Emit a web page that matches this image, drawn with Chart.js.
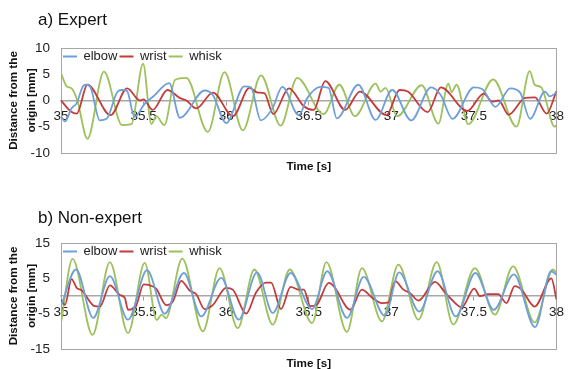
<!DOCTYPE html>
<html>
<head>
<meta charset="utf-8">
<script src="https://cdn.jsdelivr.net/npm/chart.js@4.4.1/dist/chart.umd.min.js"></script>
<style>
  html, body { margin: 0; padding: 0; background: #fff; overflow: hidden; width: 568px; height: 369px; }
  canvas { position: absolute; left: 0; }
  .panel-title { position: absolute; left: 38px; font: 17px "Liberation Sans", Arial, sans-serif; color: #111; white-space: nowrap; z-index: 2; }
</style>
</head>
<body>
<canvas id="expert" width="568" height="185" style="top:0px"></canvas>
<canvas id="nonExpert" width="568" height="190" style="top:185px"></canvas>
<div class="panel-title" style="top:10px">a) Expert</div>
<div class="panel-title" style="top:208px">b) Non-expert</div>
<script>
// series names and colours
const seriesNames = ["elbow", "wrist", "whisk"];
const seriesColors = ["#6f9fd8", "#c43b3b", "#9dc15c"];

// time axis
const timeMin = 35;
const timeMax = 38;
const timeStep = 0.5;

// a) Expert
const expertElbowT = [35.0, 35.024, 35.064, 35.095, 35.135, 35.155, 35.179, 35.235, 35.276, 35.346, 35.376, 35.40, 35.445, 35.51, 35.56, 35.655, 35.72, 35.87, 35.92, 36.0, 36.11, 36.15, 36.21, 36.28, 36.34, 36.44, 36.49, 36.57, 36.62, 36.67, 36.80, 36.905, 37.005, 37.12, 37.24, 37.30, 37.37, 37.5, 37.55, 37.63, 37.72, 37.78, 37.84, 37.93, 37.96, 38.0];
const expertElbowV = [-3.0, -4.0, -1.5, -0.5, 2.8, 3.0, 2.5, -3.8, -3.5, 1.8, 2.0, 1.8, -3.1, -0.5, 0.8, 3.3, -3.3, 1.9, 1.0, -4.3, 2.7, 2.5, -3.8, -1.5, 2.6, -2.8, 0.4, 2.6, 2.4, -3.4, 3.0, -3.7, 2.0, -3.8, 2.5, 1.0, -3.5, 2.5, 2.2, -1.2, 2.3, 1.5, -3.5, 1.7, 0.8, 1.5];
const expertWristT = [35.0, 35.06, 35.095, 35.16, 35.30, 35.40, 35.479, 35.499, 35.555, 35.645, 35.718, 35.759, 35.819, 35.92, 36.041, 36.141, 36.191, 36.231, 36.285, 36.38, 36.47, 36.53, 36.60, 36.72, 36.81, 36.97, 37.05, 37.10, 37.22, 37.30, 37.46, 37.56, 37.61, 37.65, 37.71, 37.81, 37.87, 37.94, 38.0];
const expertWristV = [0, -2.1, -2.5, 3.0, -2.8, 2.3, 0, 0.2, -1.8, 2.0, 0.5, 0, -1.5, 1.5, -3.0, 2.4, 1.5, 1.4, -2.6, 2.3, -1.1, -1.8, 3.7, -1.8, 1.7, -2.8, 2.0, 1.7, -2.2, 2.5, -2.0, 1.3, -0.2, 0, -2.7, 0.5, 0.6, -2.5, 1.8];
const expertWhiskT = [35.0, 35.034, 35.064, 35.099, 35.16, 35.26, 35.37, 35.427, 35.497, 35.547, 35.577, 35.626, 35.69, 35.759, 35.889, 35.99, 36.101, 36.211, 36.33, 36.43, 36.59, 36.685, 36.78, 36.905, 36.935, 36.965, 37.035, 37.184, 37.285, 37.345, 37.365, 37.395, 37.466, 37.617, 37.758, 37.838, 37.868, 37.908, 37.989, 38.0];
const expertWhiskV = [5.2, 2.7, 2.3, 0, -7.3, 5.5, -4.7, -4.5, 7.0, -4.5, -3.0, -4.7, 3.9, 4.3, -6.0, 5.4, -5.7, 4.8, -4.8, 4.3, -2.6, 3.0, -3.0, 3.2, 1.7, 2.4, -3.0, 2.9, -4.4, 3.2, 1.6, 3.0, -4.5, 4.0, -5.0, 5.6, 3.0, 2.5, -5.0, -4.7];

// b) Non-expert
const nonExpertElbowT = [35.0, 35.091, 35.195, 35.296, 35.406, 35.521, 35.628, 35.744, 35.849, 35.97, 36.076, 36.187, 36.282, 36.39, 36.52, 36.612, 36.732, 36.833, 36.96, 37.048, 37.169, 37.28, 37.39, 37.509, 37.62, 37.742, 37.87, 37.968, 38.0];
const nonExpertElbowV = [-2.9, 7.5, -6.2, 5.6, -6.7, 7.3, -5.0, 6.5, -5.8, 5.1, -6.7, 6.7, -4.8, 6.5, -3.7, 7.0, -6.2, 5.4, -5.6, 6.7, -4.4, 7.0, -5.8, 6.5, -3.9, 6.1, -8.8, 7.0, 6.0];
const nonExpertWristT = [35.0, 35.024, 35.064, 35.095, 35.125, 35.205, 35.235, 35.296, 35.356, 35.386, 35.406, 35.447, 35.501, 35.557, 35.577, 35.638, 35.678, 35.728, 35.779, 35.819, 35.869, 35.92, 36.0, 36.04, 36.121, 36.181, 36.241, 36.272, 36.332, 36.39, 36.44, 36.47, 36.51, 36.55, 36.621, 36.651, 36.752, 36.822, 36.882, 36.943, 36.983, 37.023, 37.073, 37.114, 37.164, 37.265, 37.325, 37.365, 37.426, 37.502, 37.536, 37.587, 37.647, 37.697, 37.747, 37.788, 37.868, 37.969, 38.0];
const nonExpertWristV = [-1, -2.5, 4.8, 2.3, 1.6, -2.9, -3.0, 3.0, 0.3, -0.5, -3.9, -3.5, 3.3, 2.7, 2.0, -2.6, -1.5, 4.3, 1.5, 0.5, -3.7, -2.5, 2.3, 1.8, -5.0, 1.0, 3.8, 3.8, -3.7, 2.6, 1.8, 1.8, -2.9, -2.4, 3.7, 2.8, -3.9, 1.8, -0.4, -2.0, -1.8, 4.2, 1.8, 0.8, -1.3, 4.0, 1.0, -1.0, -3.2, 2.1, 0, 0.5, 0.5, -2.0, 2.8, 1.8, -3.0, 5.0, -1.0];
const nonExpertWhiskT = [35.0, 35.07, 35.191, 35.296, 35.406, 35.507, 35.58, 35.61, 35.635, 35.734, 35.859, 35.96, 36.07, 36.171, 36.282, 36.385, 36.52, 36.607, 36.731, 36.822, 36.943, 37.043, 37.164, 37.275, 37.375, 37.506, 37.627, 37.737, 37.868, 37.979, 38.0];
const nonExpertWhiskV = [-7.7, 10.5, -11, 9.6, -10.5, 9.4, -6.8, -5.3, -6.3, 10.6, -10, 7.9, -9.1, 7.5, -8.1, 7.5, -7.7, 9.6, -10.2, 7.9, -7.2, 8.9, -6.7, 9.6, -8.1, 7.9, -5.3, 8.4, -7.5, 7.5, 6.5];

const FONT = '"Liberation Sans", Arial, sans-serif';

function pairs(t, v) {
    return t.map((x, i) => ({ x: x, y: v[i] }));
}

// legend sits inside the plot area: reserve no room for it,
// then give its box back a height so it is not clipped when drawn
const legendInside = {
    id: "legendInside",
    beforeInit(chart) {
        const fit = chart.legend.fit;
        chart.legend.fit = function () {
            fit.call(this);
            this.height = 0;
        };
    },
    afterLayout(chart) {
        const lg = chart.legend;
        lg.height = 30;
        lg.bottom = lg.top + 30;
    }
};

// grey frame round the plot area
const plotFrame = {
    id: "plotFrame",
    beforeDatasetsDraw(chart) {
        const a = chart.chartArea;
        const ctx = chart.ctx;
        ctx.save();
        ctx.strokeStyle = "#a6a6a6";
        ctx.lineWidth = 1;
        ctx.strokeRect(Math.round(a.left) + 0.5, Math.round(a.top) + 0.5, Math.round(a.width), Math.round(a.height));
        ctx.restore();
    }
};

function buildChart(id, series, yMin, yMax, yStep, box) {
    return new Chart(document.getElementById(id), {
        type: "line",
        data: {
            datasets: seriesNames.map((name, i) => ({
                label: name,
                data: series[i],
                xAxisID: "x",
                yAxisID: "y",
                borderColor: seriesColors[i],
                backgroundColor: seriesColors[i],
                borderWidth: 1.8,
                pointRadius: 0,
                cubicInterpolationMode: "monotone",
                fill: false
            }))
        },
        options: {
            responsive: false,
            animation: false,
            devicePixelRatio: 1,
            layout: { padding: { top: box.top, right: 10, bottom: box.bottom, left: 0 } },
            plugins: {
                legend: {
                    position: "top",
                    align: "start",
                    fullSize: false,
                    labels: {
                        usePointStyle: true,
                        pointStyle: "line",
                        pointStyleWidth: 14,
                        padding: 2,
                        color: "#222",
                        font: { size: 13, family: FONT }
                    }
                },
                tooltip: { enabled: false }
            },
            scales: {
                x: {
                    type: "linear",
                    min: timeMin,
                    max: timeMax,
                    position: { y: 0 },
                    ticks: {
                        stepSize: timeStep, color: "#222", padding: 4, maxRotation: 0, autoSkip: false,
                        font: { size: 13.5, family: FONT },
                        callback: (value) => String(value)
                    },
                    grid: { drawOnChartArea: false, tickLength: 4, color: "#a0a0a0" },
                    border: { color: "#a8a8a8", width: 1.6 }
                },
                x2: {
                    type: "linear",
                    position: "bottom",
                    min: timeMin,
                    max: timeMax,
                    ticks: { display: false },
                    grid: { display: false, drawTicks: false },
                    border: { display: false },
                    title: {
                        display: true,
                        text: "Time [s]",
                        color: "#111",
                        padding: box.titlePad,
                        font: { size: 11.7, weight: "bold", family: FONT, lineHeight: 1.2 }
                    }
                },
                y: {
                    min: yMin,
                    max: yMax,
                    ticks: { stepSize: yStep, color: "#222", padding: 11, font: { size: 13.5, family: FONT } },
                    grid: { display: false, drawTicks: false },
                    border: { display: false },
                    title: {
                        display: true,
                        text: ["Distance from the", "origin [mm]"],
                        color: "#111",
                        padding: { top: 5, bottom: 0 },
                        font: { size: 11.7, weight: "bold", family: FONT, lineHeight: 1.54 }
                    },
                    afterFit(scale) { scale.width = 61; }
                }
            }
        },
        plugins: [legendInside, plotFrame]
    });
}

buildChart("expert",
    [pairs(expertElbowT, expertElbowV), pairs(expertWristT, expertWristV), pairs(expertWhiskT, expertWhiskV)],
    -10, 10, 5,
    { top: 48, bottom: 10, titlePad: { top: 7, bottom: 1 } });

buildChart("nonExpert",
    [pairs(nonExpertElbowT, nonExpertElbowV), pairs(nonExpertWristT, nonExpertWristV), pairs(nonExpertWhiskT, nonExpertWhiskV)],
    -15, 15, 10,
    { top: 58, bottom: 4, titlePad: { top: 8, bottom: 0 } });
</script>
</body>
</html>
